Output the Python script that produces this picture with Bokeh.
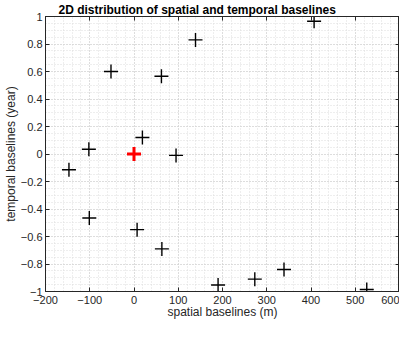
from bokeh.plotting import figure
from bokeh.models import Range1d, SingleIntervalTicker, LinearAxis, CustomJSTickFormatter
from bokeh.embed import file_html
from bokeh.resources import INLINE

# spatial baselines (m) and temporal baselines (year) of secondary images
spatial = [407, 139, -52, 62, 19, -102, 95, -147, -101, 7, 63, 190, 273, 339, 526]
temporal = [0.965, 0.83, 0.60, 0.565, 0.12, 0.035, -0.01, -0.115, -0.465, -0.55, -0.69, -0.953, -0.91, -0.84, -0.985]
# reference image
ref_spatial = [0]
ref_temporal = [0]

title_text = "2D distribution of spatial and temporal baselines"
x_label = "spatial baselines (m)"
y_label = "temporal baselines (year)"

FONT = "Liberation Sans"

p = figure(width=399, height=321, output_backend="svg", toolbar_location=None,
           x_range=Range1d(-200, 600), y_range=Range1d(-1, 1),
           min_border_left=38, min_border_right=0, min_border_top=0, min_border_bottom=0)

p.title.text = title_text
p.title.text_font = FONT
p.title.text_font_size = "12px"
p.title.text_font_style = "bold"
p.title.text_color = "black"
p.title.align = "left"
p.title.offset = 13
p.title.standoff = 0

p.outline_line_color = "#262626"
p.outline_line_width = 1
p.background_fill_color = "white"
p.border_fill_color = "white"

xt = SingleIntervalTicker(interval=100, num_minor_ticks=5)
yt = SingleIntervalTicker(interval=0.2, num_minor_ticks=4)

for ax, tk in ((p.xaxis[0], xt), (p.yaxis[0], yt)):
    ax.ticker = tk
    ax.axis_line_color = "#262626"
    ax.major_tick_in = 4
    ax.major_tick_out = 0
    ax.minor_tick_in = 0
    ax.minor_tick_out = 0
    ax.major_tick_line_color = "#262626"
    ax.major_label_text_font = FONT
    ax.major_label_text_font_size = "11px"
    ax.major_label_text_color = "#262626"
    ax.major_label_standoff = 3
    ax.axis_label_text_font = FONT
    ax.axis_label_text_font_size = "12px"
    ax.axis_label_text_font_style = "normal"
    ax.axis_label_text_color = "#262626"
    ax.axis_label_standoff = 0

p.xaxis[0].major_label_standoff = 4
p.xaxis[0].axis_label_standoff = -2
p.xaxis[0].axis_label = x_label
p.yaxis[0].axis_label = y_label
p.yaxis[0].major_label_orientation = "horizontal"

blank = CustomJSTickFormatter(code="return ''")
# ticks on the top and right edges (box on)
top = LinearAxis(ticker=xt, formatter=blank, major_label_standoff=0,
                 major_tick_in=4, major_tick_out=0, minor_tick_in=0, minor_tick_out=0,
                 axis_line_color="#262626", major_tick_line_color="#262626")
right = LinearAxis(ticker=yt, formatter=blank, major_label_standoff=0,
                   major_tick_in=4, major_tick_out=0, minor_tick_in=0, minor_tick_out=0,
                   axis_line_color="#262626", major_tick_line_color="#262626")
p.add_layout(top, "above")
p.add_layout(right, "right")

for g, tk in ((p.xgrid[0], xt), (p.ygrid[0], yt)):
    g.ticker = tk
    g.grid_line_color = "#cccccc"
    g.grid_line_dash = "1 2"
    g.grid_line_width = 1
    g.minor_grid_line_color = "#dcdcdc"
    g.minor_grid_line_dash = "1 2"
    g.minor_grid_line_width = 1

p.scatter(spatial, temporal, marker="cross", size=14, line_color="black", line_width=1.4)
p.scatter(ref_spatial, ref_temporal, marker="cross", size=14, line_color="red", line_width=3)

open("out.html", "w").write(file_html(p, INLINE))
